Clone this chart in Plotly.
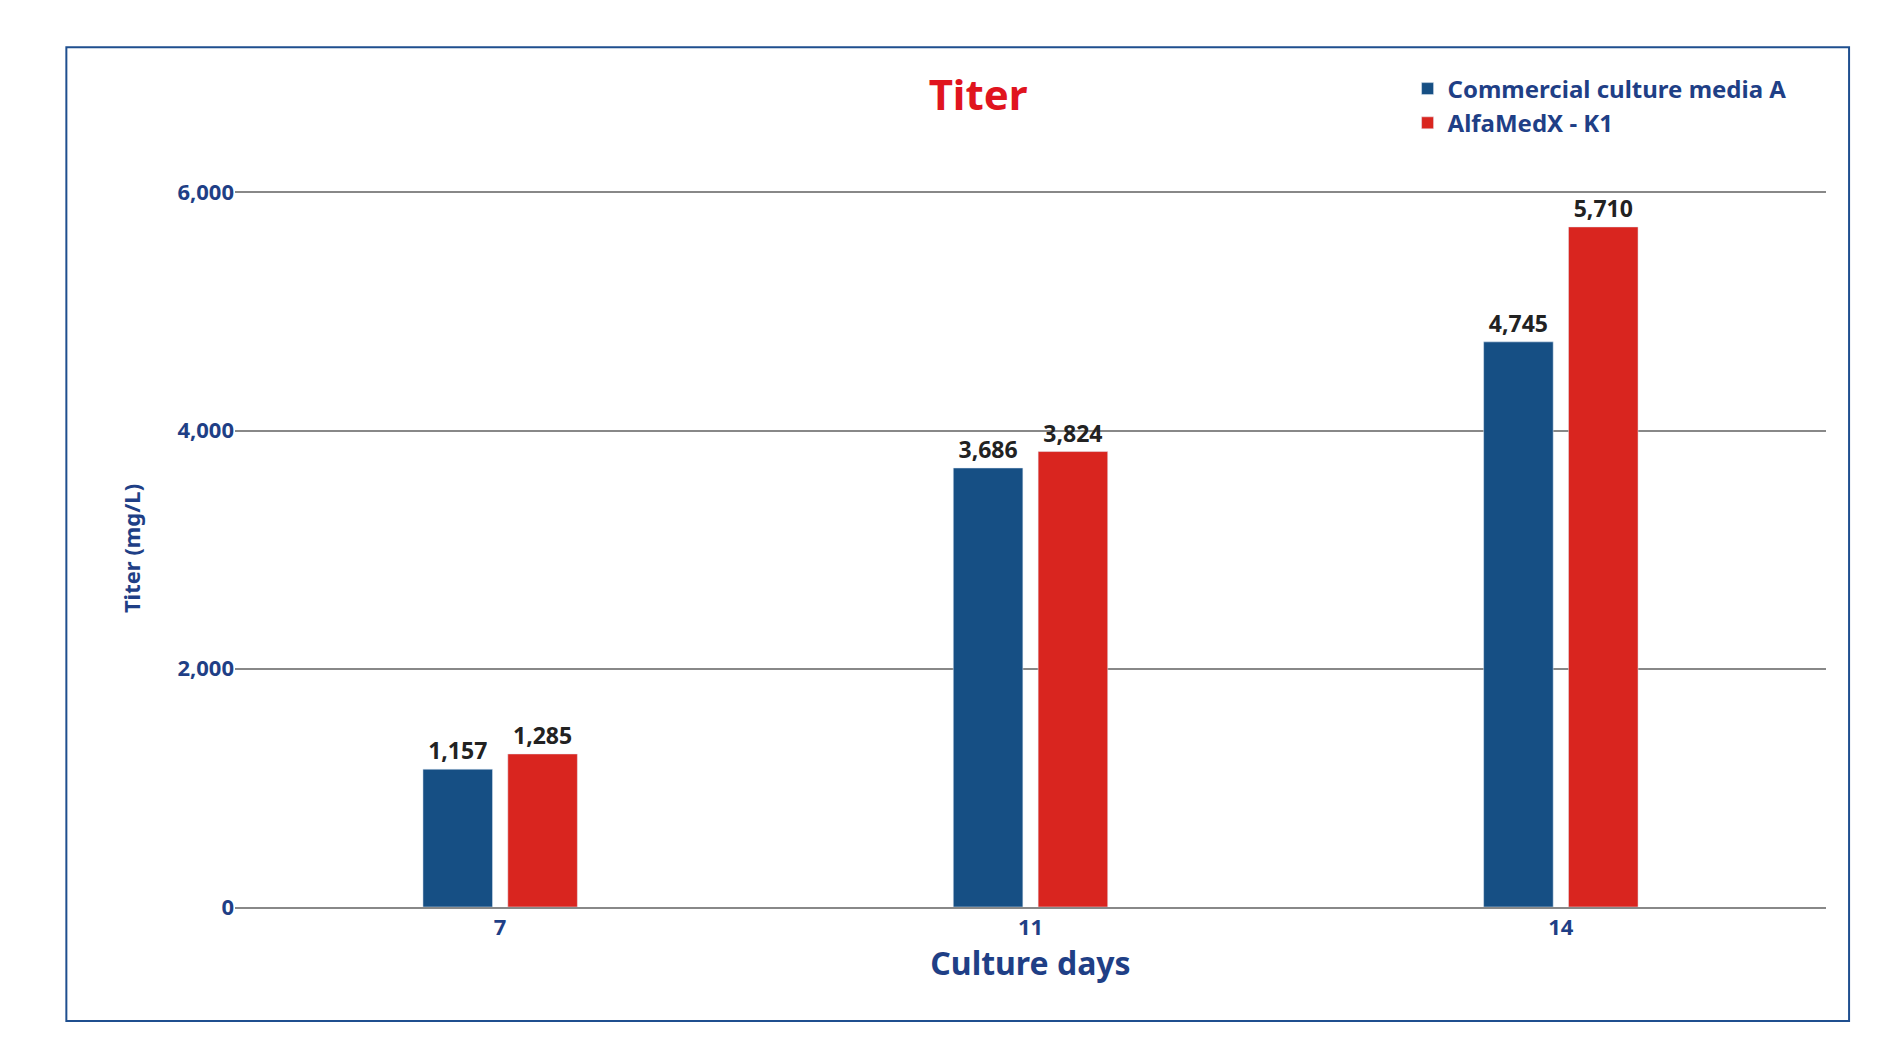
import plotly.graph_objects as go

days = ["7", "11", "14"]
media_a = [1157, 3686, 4745]
alfamedx = [1285, 3824, 5710]
series_names = ["Commercial culture media A", "AlfaMedX - K1"]

blue = "#164f84"
red = "#d9251f"
txt = "#1f3f86"
font = "Noto Sans"

fig = go.Figure()
fig.add_trace(go.Bar(x=days, y=media_a, name=series_names[0], marker_color=blue,
                     text=[f"<b>{v:,}</b>" for v in media_a], textposition="outside",
                     textfont=dict(family=font, size=23, color="#222"), cliponaxis=False))
fig.add_trace(go.Bar(x=days, y=alfamedx, name=series_names[1], marker_color=red,
                     text=[f"<b>{v:,}</b>" for v in alfamedx], textposition="outside",
                     textfont=dict(family=font, size=23, color="#222"), cliponaxis=False))

fig.update_layout(
    width=1891, height=1064,
    margin=dict(l=227, r=73, t=182, b=165),
    paper_bgcolor="white", plot_bgcolor="white",
    barmode="group", bargap=0.68, bargroupgap=0.18,
    font=dict(family=font, color=txt),
    title=dict(text="<b>Titer</b>", x=0.513, xanchor="center", y=0.918, yanchor="middle",
               font=dict(family=font, size=42, color="#e0141e")),
    legend=dict(x=0.737, y=0.945, yref="container", xanchor="left", yanchor="top",
                font=dict(family=font, size=24, color=txt, weight="bold"), itemwidth=30,
                tracegroupgap=2, bgcolor="rgba(0,0,0,0)"),
    xaxis=dict(title=dict(text="<b>Culture days</b>", font=dict(size=32, color=txt), standoff=12),
               tickfont=dict(size=22, color=txt, weight="bold"), showline=True,
               linecolor="#888", linewidth=2, ticks=""),
    yaxis=dict(title=dict(text="<b>Titer (mg/L)</b>", font=dict(size=22, color=txt), standoff=30),
               range=[0, 6020], tickvals=[0, 2000, 4000, 6000],
               tickformat=",", tickfont=dict(size=22, color=txt, weight="bold"),
               showgrid=True, gridcolor="#888", gridwidth=1.5, zeroline=False),
    shapes=[dict(type="rect", xref="paper", yref="paper", x0=-0.106, x1=1.0145,
                 y0=-0.159, y1=1.199, line=dict(color="#1f4f8f", width=2))],
)
fig.write_html("out.html")
